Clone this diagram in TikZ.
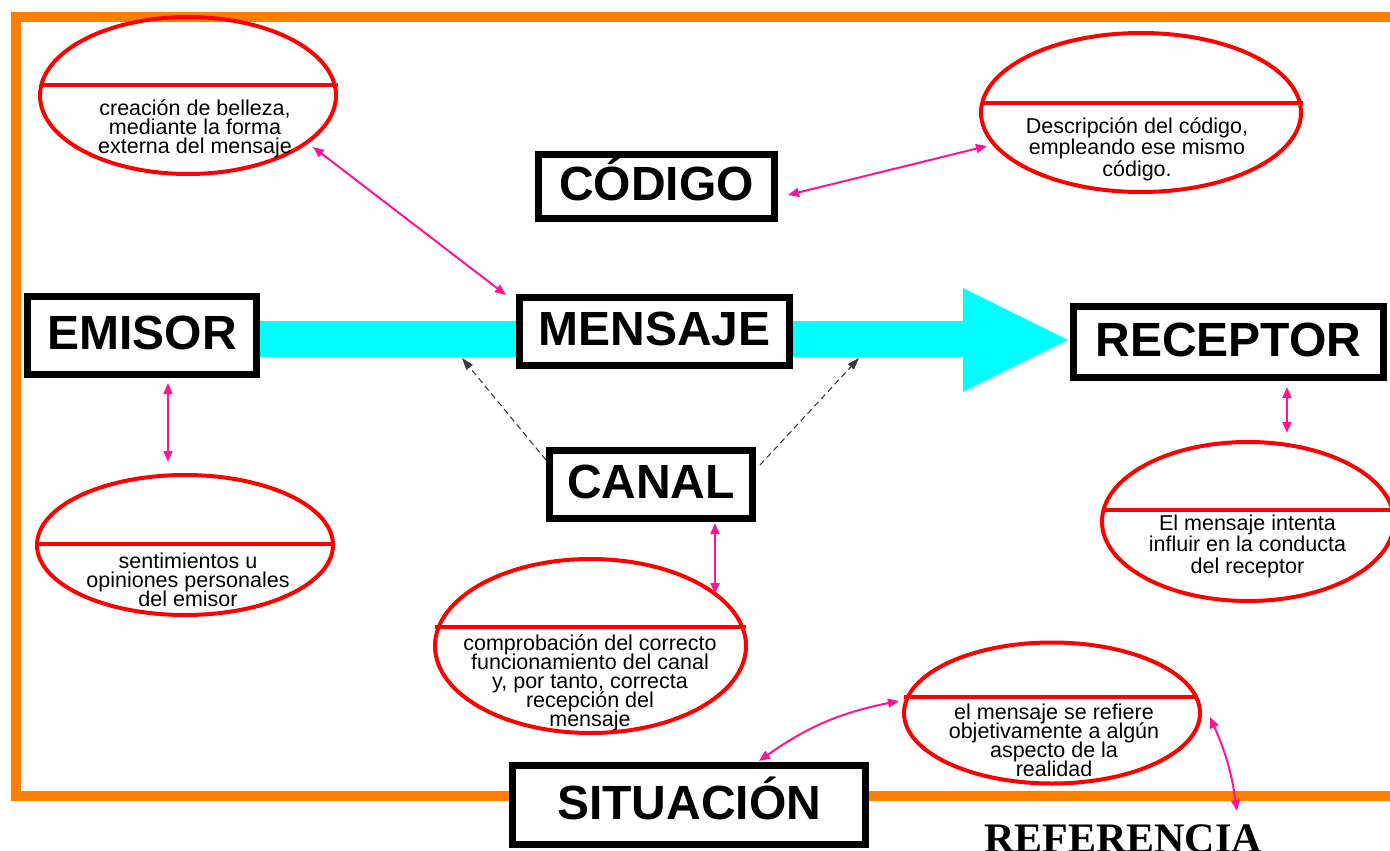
\documentclass[tikz,border=0pt]{standalone}
\usepackage{fontspec}
\setmainfont{Liberation Sans}
\newfontfamily\serifbold{Liberation Serif}
\usetikzlibrary{arrows.meta,shapes.geometric}
\definecolor{frameor}{RGB}{255,128,0}
\definecolor{cyanar}{RGB}{0,255,255}
\definecolor{mag}{RGB}{255,20,147}
\definecolor{ellred}{RGB}{255,0,0}
\definecolor{dashgray}{RGB}{60,60,60}
\newcommand{\tightlinesA}{\fontsize{21.5}{19}\selectfont\lineskiplimit=-50pt\relax\lineskip=0pt\relax}
\newcommand{\tightlinesB}{\fontsize{21.5}{21.5}\selectfont\lineskiplimit=-50pt\relax\lineskip=0pt\relax}
\begin{document}
\begin{tikzpicture}[x=1pt,y=-1pt,
  box/.style={draw=black, line width=7pt, fill=white, inner sep=0pt,
    font=\fontsize{48}{50}\selectfont\bfseries, text height=34.5pt, text depth=6pt},
  redell/.style={ellipse, draw=ellred, line width=4pt, inner sep=0pt},
  chord/.style={draw=ellred, line width=4pt},
  etext/.style={align=center, inner sep=0pt, font=\tightlinesA},
  etextw/.style={align=center, inner sep=0pt, font=\tightlinesB},
  marrow/.style={draw=mag, line width=2pt,
    {Triangle[length=11pt,width=9pt]}-{Triangle[length=11pt,width=9pt]}},
  darrow/.style={draw=dashgray, line width=1.1pt, dash pattern=on 6pt off 4pt,
    -{Triangle[length=12pt,width=8pt]}}
]
\useasboundingbox (0,0) rectangle (1390,851);
\clip (0,0) rectangle (1390,851);
\fill[white] (0,0) rectangle (1390,851);

% orange frame
\draw[frameor, line width=10pt] (16,17) rectangle (1396,796);

% cyan block arrow
\fill[cyanar] (250,321) -- (963,321) -- (963,288) -- (1068,340) -- (963,392)
  -- (963,357) -- (250,357) -- cycle;

% boxes
\node[box, minimum width=229pt, minimum height=78pt] (emisor) at (142,335.5) {EMISOR};
\node[box, minimum width=270pt, minimum height=68pt] (mensaje) at (654.5,331.5) {MENSAJE};
\node[box, minimum width=236pt, minimum height=64pt] (codigo) at (656.5,186.5) {CÓDIGO};
\node[box, minimum width=203pt, minimum height=68pt] (canal) at (651,484.5) {CANAL};
\node[box, minimum width=310pt, minimum height=71pt] (receptor) at (1228.5,342) {RECEPTOR};
\node[box, minimum width=353pt, minimum height=79pt] (situacion) at (689,805) {SITUACIÓN};

\node[font=\serifbold\bfseries\fontsize{42}{44}\selectfont, anchor=base, inner sep=0pt]
  (referencia) at (1123,852) {REFERENCIA};

% ellipses
\node[redell, minimum width=296pt, minimum height=157pt] (e1) at (188,95.5) {};
\draw[chord] (40,85) -- (338,85);
\node[etext] (t1) at (195,129) {creación de belleza,\\mediante la forma\\externa del mensaje};

\node[redell, minimum width=320pt, minimum height=159pt] (e2) at (1141,112.5) {};
\draw[chord] (981,103) -- (1303,103);
\node[etextw] (t2) at (1137,149) {Descripción del código,\\empleando ese mismo\\código.};

\node[redell, minimum width=296pt, minimum height=140pt] (e3) at (185,545) {};
\draw[chord] (37,544) -- (335,544);
\node[etext] (t3) at (188,580) {sentimientos u\\opiniones personales\\del emisor};

\node[redell, minimum width=311pt, minimum height=174pt] (e4) at (590.5,646) {};
\draw[chord] (435,627) -- (746,627);
\node[etext] (t4) at (590,683) {comprobación del correcto\\funcionamiento del canal\\y, por tanto, correcta\\recepción del\\mensaje};

\node[redell, minimum width=292pt, minimum height=159pt] (e5) at (1248,521.5) {};
\draw[chord] (1102,510) -- (1392,510);
\node[etextw] (t5) at (1247.5,546) {El mensaje intenta\\influir en la conducta\\del receptor};

\node[redell, minimum width=296pt, minimum height=141pt] (e6) at (1052,713) {};
\draw[chord] (904,697) -- (1195,697);
\node[etext] (t6) at (1054,740) {el mensaje se refiere\\objetivamente a algún\\aspecto de la\\realidad};

% connector end points
\coordinate (a1s) at (313,147);
\coordinate (a1e) at (506,295);
\coordinate (a2s) at (788,195);
\coordinate (a2e) at (987,146);
\coordinate (a3s) at (168,383);
\coordinate (a3e) at (168,462);
\coordinate (a4s) at (715,523);
\coordinate (a4e) at (715,594);
\coordinate (a5s) at (1287,387);
\coordinate (a5e) at (1287,433);
\coordinate (a6s) at (759,761);
\coordinate (a6e) at (899,701);
\coordinate (a7s) at (1210,717);
\coordinate (a7e) at (1237,811);
\coordinate (d1s) at (546,460);
\coordinate (d1e) at (462,358);
\coordinate (d2s) at (760,465);
\coordinate (d2e) at (859,358);

% magenta double arrows
\draw[marrow] (a1s) -- (a1e);
\draw[marrow] (a2s) -- (a2e);
\draw[marrow] (a3s) -- (a3e);
\draw[marrow] (a4s) -- (a4e);
\draw[marrow] (a5s) -- (a5e);
\draw[marrow] (a6s) to[bend left=12] (a6e);
\draw[marrow] (a7s) to[bend left=8] (a7e);

% dashed arrows from canal
\draw[darrow] (d1s) -- (d1e);
\draw[darrow] (d2s) -- (d2e);
\end{tikzpicture}
\end{document}
